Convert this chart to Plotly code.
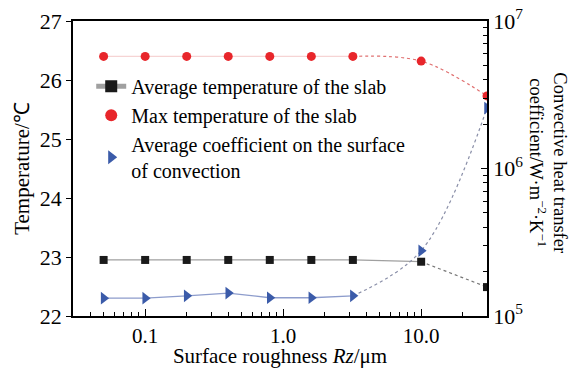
import plotly.graph_objects as go
import math

rz = [0.05, 0.1, 0.2, 0.4, 0.8, 1.6, 3.2, 10.0, 30.0]
avg_temp = [22.95, 22.95, 22.95, 22.95, 22.95, 22.95, 22.95, 22.92, 22.49]
max_temp = [26.40, 26.40, 26.40, 26.40, 26.40, 26.40, 26.40, 26.32, 25.73]
avg_coef = [1.32e5, 1.32e5, 1.37e5, 1.43e5, 1.33e5, 1.33e5, 1.37e5, 2.77e5, 2.57e6]

xticks = [0.1, 1, 10]
xticktext = ["0.1", "1.0", "10.0"]
y2ticks = [1e5, 1e6, 1e7]
y2ticktext = ["10<sup>5</sup>", "10<sup>6</sup>", "10<sup>7</sup>"]
x_minor = [m * d for d in (0.01, 0.1, 1, 10) for m in range(2, 10)]
y2_minor = [m * d for d in (1e5, 1e6) for m in range(2, 10)]

FONT = "Liberation Serif"
BLACK = "#1a1a1a"
RED = "#e8262b"
BLUE = "#3b5ba9"

fig = go.Figure()

# dotted / faint connecting lines
fig.add_trace(go.Scatter(x=rz[7:], y=avg_temp[7:], mode="lines", line=dict(color="#777777", width=1.2, dash="dot"),
                         showlegend=False, hoverinfo="skip"))
fig.add_trace(go.Scatter(x=rz[:7], y=max_temp[:7], mode="lines", line=dict(color="#f6d4d4", width=1.3),
                         showlegend=False, hoverinfo="skip"))
fig.add_trace(go.Scatter(x=rz[6:], y=max_temp[6:], mode="lines", line=dict(color="#e07070", width=1.2, dash="dot", shape="spline"),
                         showlegend=False, hoverinfo="skip"))
fig.add_trace(go.Scatter(x=rz[:7], y=avg_coef[:7], mode="lines", line=dict(color="#8d9ccc", width=1.3),
                         yaxis="y2", showlegend=False, hoverinfo="skip"))
fig.add_trace(go.Scatter(x=rz[6:], y=avg_coef[6:], mode="lines", line=dict(color="#8a8fa8", width=1.2, dash="dot", shape="spline"),
                         yaxis="y2", showlegend=False, hoverinfo="skip"))

# data traces
fig.add_trace(go.Scatter(x=rz[:8], y=avg_temp[:8], mode="lines+markers", name="Average temperature of the slab",
                         line=dict(color="#a0a0a0", width=1.2),
                         marker=dict(symbol="square", size=8, color=BLACK)))
fig.add_trace(go.Scatter(x=rz[8:], y=avg_temp[8:], mode="markers", showlegend=False,
                         marker=dict(symbol="square", size=8, color=BLACK)))
fig.add_trace(go.Scatter(x=rz, y=max_temp, mode="markers", name="Max temperature of the slab",
                         marker=dict(symbol="circle", size=9, color=RED)))
fig.add_trace(go.Scatter(x=rz, y=avg_coef, mode="markers", yaxis="y2",
                         name="Average coefficient on the surface<br>of convection",
                         marker=dict(symbol="triangle-right", size=11, color=BLUE)))

fig.update_layout(
    width=571, height=368,
    margin=dict(l=73, r=84, t=21, b=52, autoexpand=False),
    paper_bgcolor="white", plot_bgcolor="white",
    font=dict(family=FONT, size=21, color="black"),
    showlegend=True,
    legend=dict(x=0.044, y=0.845, xanchor="left", yanchor="top", bgcolor="rgba(0,0,0,0)",
                font=dict(size=20, family=FONT), tracegroupgap=0, itemsizing="constant"),
    xaxis=dict(type="log", range=[math.log10(0.03), math.log10(30)], automargin=True,
               tickvals=xticks, ticktext=xticktext, ticks="inside", ticklen=7, tickcolor="black",
               minor=dict(tickvals=x_minor, ticks="inside", ticklen=4, tickcolor="black", showgrid=False),
               showline=True, linecolor="black", linewidth=1.5, mirror=True,
               showgrid=False, zeroline=False, tickfont=dict(size=21),
               title=dict(text="Surface roughness <i>Rz</i>/μm", standoff=5, font=dict(size=21))),
    yaxis=dict(range=[22, 27], dtick=1, ticks="outside", ticklen=5, automargin=False, tickcolor="black",
               showline=True, linecolor="black", linewidth=1.5,
               showgrid=False, zeroline=False, tickfont=dict(size=22),
               title=dict(text="Temperature/℃", standoff=4, font=dict(size=21))),
    yaxis2=dict(type="log", range=[5, 7], overlaying="y", side="right", automargin=False,
                tickvals=y2ticks, ticktext=y2ticktext, ticks="inside", ticklen=6, tickcolor="black",
                minor=dict(tickvals=y2_minor, ticks="inside", ticklen=4, tickcolor="black", showgrid=False),
                showline=True, linecolor="black", linewidth=1.5,
                showgrid=False, zeroline=False, tickfont=dict(size=22)),
)

fig.add_annotation(text="Convective heat transfer<br>coefficient/W·m<sup>−2</sup>·K<sup>−1</sup>",
                   xref="paper", yref="paper", x=1.148, y=0.52, xanchor="center", yanchor="middle",
                   textangle=90, showarrow=False, font=dict(size=18.5, family=FONT))

fig.write_html("out.html", config={"displayModeBar": False},
               post_script="document.body.style.margin='0';")
